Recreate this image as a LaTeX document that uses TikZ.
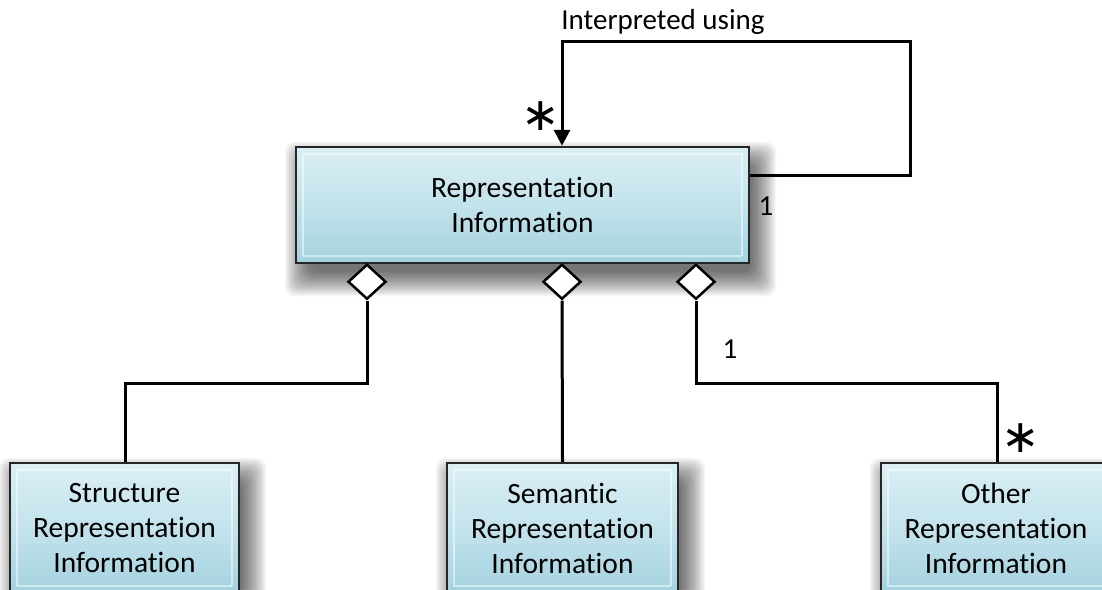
\documentclass[tikz,border=0pt]{standalone}
\usepackage{fontspec}
\setmainfont{Carlito}[RawFeature=-liga]
\newfontfamily\djv{DejaVu Sans}
\usetikzlibrary{shapes.geometric,arrows.meta}
\pgfdeclarelayer{bg}
\pgfsetlayers{bg,main}
\begin{document}
\begin{tikzpicture}[x=1pt,y=-1pt,
  cls/.style={draw=black!85,line width=2.5pt,top color=boxtop,bottom color=boxbot,
    middle color=boxmid,align=center,inner sep=0pt,
    font=\fontsize{29.5}{35}\selectfont,
    path picture={
      \draw[white,opacity=0.5,line width=1.2pt]
        ([xshift=7pt,yshift=-7pt]path picture bounding box.north west) --
        ([xshift=-7pt,yshift=-7pt]path picture bounding box.north east) --
        ([xshift=-7pt,yshift=7pt]path picture bounding box.south east);
      \draw[white,opacity=0.5,line width=1.2pt]
        ([xshift=7pt,yshift=-7pt]path picture bounding box.north west) --
        ([xshift=7pt,yshift=7pt]path picture bounding box.south west) --
        ([xshift=-7pt,yshift=7pt]path picture bounding box.south east);
    }},
  agg/.style={diamond,draw,fill=white,line width=2.5pt,inner sep=0pt,minimum width=38pt,minimum height=35pt},
  conn/.style={line width=3pt},
  lbl/.style={font=\fontsize{29}{34}\selectfont,inner sep=0pt},
  star/.style={font=\djv\fontsize{46}{46}\selectfont,inner sep=0pt,text height=20pt,text depth=0pt}]
\definecolor{boxtop}{HTML}{DAEFF4}
\definecolor{boxmid}{HTML}{C3E3EC}
\definecolor{boxbot}{HTML}{A3D2DF}
\useasboundingbox (0,0) rectangle (1102,589);
\clip (0,0) rectangle (1102,589);
% classes
\node[cls,minimum width=453pt,minimum height=116pt] (ri) at (522.5,205) {Representation\\Information};
\node[cls,minimum width=229pt,minimum height=130pt] (sri) at (124.5,528) {Structure\\Representation\\Information};
\node[cls,minimum width=231pt,minimum height=130pt] (semri) at (562.5,528) {Semantic\\Representation\\Information};
\node[cls,minimum width=230pt,minimum height=130pt] (ori) at (996,528) {Other\\Representation\\Information};
% soft shadows
\begin{pgfonlayer}{bg}
\fill[white] (0,0) rectangle (1102,589);
\foreach \n in {ri,sri,semri,ori}{
  \foreach \k in {0,...,19}{
    \pgfmathsetmacro{\e}{18-1.3*\k}
    \fill[black,opacity=0.035,rounded corners=10pt]
      ([xshift=8pt-\e pt,yshift=-14pt+\e pt]\n.north west) rectangle
      ([xshift=8pt+\e pt,yshift=-14pt-\e pt]\n.south east);
  }
}
\end{pgfonlayer}
% aggregation diamonds
\node[agg,anchor=north] (d1) at (367,263) {};
\node[agg,anchor=north] (d2) at (562,263) {};
\node[agg,anchor=north] (d3) at (696,263) {};
% connectors
\draw[conn] (d1.south) |- (125,383) -- (sri.north -| 125,0);
\draw[conn] (d2.south) -- (semri.north);
\draw[conn] (d3.south) |- (997,383) -- (ori.north -| 997,0);
\coordinate (c1) at (910,41);
\draw[conn,-{Triangle[width=16pt,length=16pt]}] (ri.east |- 0,175) -| (c1) -| (ri.north -| 562,0);
% labels
\node[lbl] (t1) at (663,22) {Interpreted using};
\node[star] (s1) at (541,120) {∗};
\node[lbl] (one1) at (766,206) {1};
\node[lbl] (one2) at (730,349) {1};
\node[star] (s2) at (1021,442) {∗};
\end{tikzpicture}
\end{document}
